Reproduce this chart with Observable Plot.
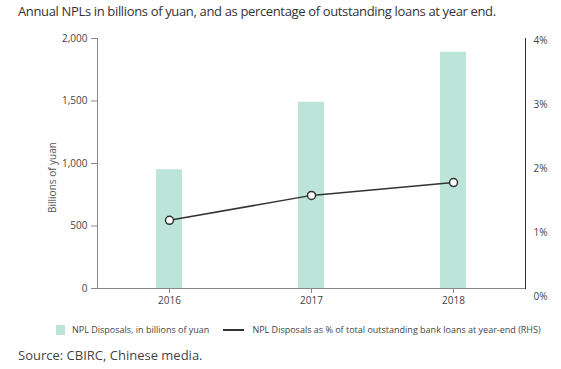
<!DOCTYPE html>
<html><head><meta charset="utf-8">
<script src="https://cdn.jsdelivr.net/npm/d3@7"></script>
<script src="https://cdn.jsdelivr.net/npm/@observablehq/plot@0.6"></script>
<style>
body{margin:0;background:#fff;font-family:"Open Sans",sans-serif;}
#wrap{position:relative;width:561px;height:369px;overflow:hidden;}
#title{position:absolute;left:18px;top:2px;font-size:13px;letter-spacing:-0.35px;color:#333;white-space:nowrap;}
#chart{position:absolute;left:0;top:30px;}
#legend{position:absolute;left:56px;top:323px;display:flex;align-items:center;font-size:9px;color:#444;white-space:nowrap;line-height:14px;}
#legend .sw{display:inline-block;width:9px;height:10px;background:#bde4d9;margin-right:7px;}
#legend .ln{display:inline-block;width:21px;height:2px;background:#333;margin-left:14px;margin-right:8px;}
#source{position:absolute;left:18px;top:346px;font-size:13px;color:#444;white-space:nowrap;}
</style></head>
<body><div id="wrap">
<div id="title">Annual NPLs in billions of yuan, and as percentage of outstanding loans at year end.</div>
<div id="chart"></div>
<div id="legend"><span class="sw"></span><span>NPL Disposals, in billions of yuan</span><span class="ln"></span><span>NPL Disposals as % of total outstanding bank loans at year-end (RHS)</span></div>
<div id="source">Source: CBIRC, Chinese media.</div>
</div>
<script>
const years = ["2016", "2017", "2018"];
const disposals = [950, 1490, 1890];
const pctOfLoans = [1.19, 1.58, 1.78];
const leftTicks = [0, 500, 1000, 1500, 2000];
const rightTicks = [0, 1, 2, 3, 4];

const data = years.map((year, i) => ({year, value: disposals[i], pct: pctOfLoans[i]}));
// right-hand (percent) axis expressed in left-axis units
const pctToLeft = d3.scaleLinear().domain([0, 4]).range([-64, 1984]);

const chart = Plot.plot({
  width: 561,
  height: 280,
  marginTop: 8,
  marginBottom: 22,
  marginLeft: 97,
  marginRight: 36,
  style: {fontFamily: "Open Sans", fontSize: "10px", background: "white", overflow: "visible"},
  x: {type: "band", domain: years, paddingInner: 0.82, paddingOuter: 0.41},
  y: {domain: [0, 2000]},
  marks: [
    Plot.barY(data, {x: "year", y: "value", fill: "#bde4d9"}),
    Plot.frame({anchor: "left", stroke: "#888"}),
    Plot.frame({anchor: "bottom", stroke: "#888"}),
    Plot.frame({anchor: "right", stroke: "#333"}),
    Plot.axisY(leftTicks, {tickSize: 6, tickPadding: 4, stroke: "#888", fill: "#444", label: null, tickFormat: d3.format(",")}),
    Plot.axisY(rightTicks.map(pctToLeft), {anchor: "right", tickSize: 0, tickPadding: 8, fill: "#444", label: null, tickFormat: d => `${Math.round(pctToLeft.invert(d))}%`}),
    Plot.axisX({tickSize: 5, tickPadding: 3, stroke: "#888", fill: "#444", label: null}),
    Plot.text(["Billions of yuan"], {frameAnchor: "left", textAnchor: "middle", rotate: -90, dx: -45, dy: 14, fill: "#555", fontSize: 10}),
    Plot.line(data, {x: "year", y: d => pctToLeft(d.pct), stroke: "#333", strokeWidth: 1.5}),
    Plot.dot(data, {x: "year", y: d => pctToLeft(d.pct), r: 4, fill: "white", stroke: "#333", strokeWidth: 1.5})
  ]
});
document.getElementById("chart").appendChild(chart);
</script>
</body></html>
